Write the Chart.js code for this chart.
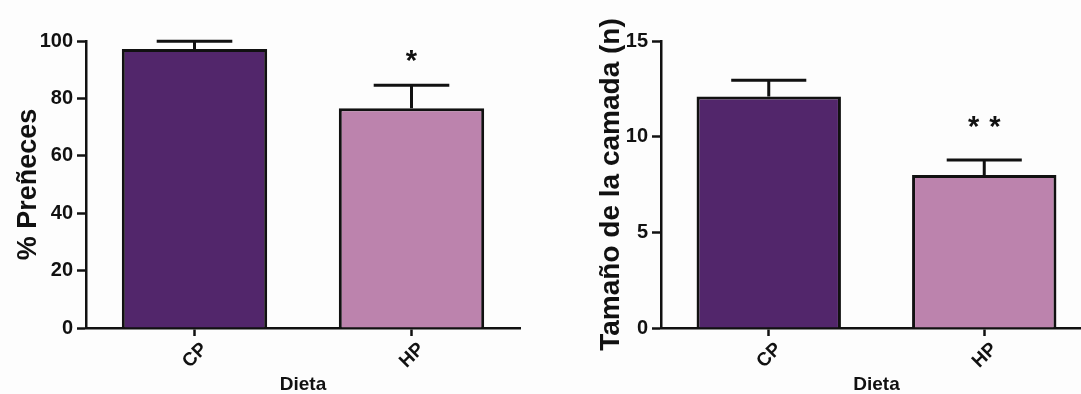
<!DOCTYPE html>
<html>
<head>
<meta charset="utf-8">
<script src="https://cdn.jsdelivr.net/npm/chart.js@4.4.1/dist/chart.umd.min.js"></script>
<style>
  html, body { margin: 0; padding: 0; background: #fdfdfd; overflow: hidden; }
  body { width: 1081px; height: 394px; position: relative; }
  .panel { position: absolute; top: 0; height: 394px; }
  #leftBox { left: 0; width: 540px; }
  #rightBox { left: 580px; width: 520px; }
</style>
</head>
<body>
<div class="panel" id="leftBox"><canvas id="pregChart"></canvas></div>
<div class="panel" id="rightBox"><canvas id="litterChart"></canvas></div>
<script>
// datos
const dietas = ["CP", "HP"];
const preneces = [97.2, 76.6];
const prenecesErr = [2.7, 8.0];
const prenecesSig = ["", "*"];
const prenecesSigY = [null, 96];
const camada = [12.1, 8.0];
const camadaErr = [0.85, 0.78];
const camadaSig = ["", "* *"];
const camadaSigY = [null, 11.0];
const prenecesTicks = [0, 20, 40, 60, 80, 100];
const camadaTicks = [0, 5, 10, 15];

const barColors = ["#52266b", "#bc83ad"];
const FONT = "'Liberation Sans', Arial, sans-serif";

// barras de error + asteriscos
const errorBars = {
    id: "errorBars",
    afterDatasetsDraw(chart, args, opts) {
        const c = chart.ctx;
        const meta = chart.getDatasetMeta(0);
        const y = chart.scales.y;
        c.save();
        c.strokeStyle = "#111";
        c.lineWidth = 3;
        meta.data.forEach((bar, i) => {
            const top = y.getPixelForValue(opts.values[i] + opts.errors[i]);
            const half = bar.width * 0.26;
            c.beginPath();
            c.moveTo(bar.x, bar.y);
            c.lineTo(bar.x, top);
            c.moveTo(bar.x - half, top);
            c.lineTo(bar.x + half, top);
            c.stroke();
            if (opts.sig[i]) {
                c.fillStyle = "#111";
                c.font = "bold 29px " + FONT;
                c.letterSpacing = "1px";
                c.textAlign = "center";
                c.textBaseline = "middle";
                c.fillText(opts.sig[i], bar.x + 0.5, y.getPixelForValue(opts.sigY[i]) + 10);
            }
        });
        c.restore();
    },
};

function makeChart(id, values, errors, sig, sigY, ticks, yMax, yTitle, titleSize, titlePad, yWidth, padRight) {
    const ctx = document.getElementById(id).getContext("2d");
    return new Chart(ctx, {
        type: "bar",
        data: {
            labels: dietas,
            datasets: [{
                data: values,
                backgroundColor: barColors,
                borderColor: "#111",
                borderWidth: 3,
                borderSkipped: "bottom",
                barPercentage: 0.67,
                categoryPercentage: 1,
            }],
        },
        options: {
            responsive: false,
            animation: false,
            layout: { padding: { top: 41, right: padRight, left: 0, bottom: 0 } },
            scales: {
                y: {
                    min: 0,
                    max: yMax,
                    afterBuildTicks: (s) => { s.ticks = ticks.map((v) => ({ value: v })); },
                    afterFit: (s) => { s.width = yWidth; },
                    ticks: { color: "#111", font: { family: FONT, size: 20, weight: "bold" }, padding: 4 },
                    grid: { drawOnChartArea: false, drawTicks: true, tickLength: 9, tickWidth: 2.5, color: "#111" },
                    border: { display: true, color: "#111", width: 2.5 },
                    title: { display: true, text: yTitle, color: "#111", font: { family: FONT, size: titleSize, weight: "bold" }, padding: { top: titlePad, bottom: 0 } },
                },
                x: {
                    afterFit: (s) => { s.height = 66; },
                    ticks: { color: "#111", minRotation: 45, maxRotation: 45, labelOffset: 10, padding: 2, font: { family: FONT, size: 19, weight: "bold" } },
                    grid: { offset: false, drawOnChartArea: false, drawTicks: true, tickLength: 8, tickWidth: 2.5, color: "#111" },
                    border: { display: true, color: "#111", width: 2.5 },
                    title: { display: true, text: "Dieta", color: "#111", font: { family: FONT, size: 19, weight: "bold", lineHeight: 1 }, padding: { top: 0, bottom: 0 } },
                },
            },
            plugins: {
                legend: { display: false },
                tooltip: { enabled: false },
                errorBars: { values, errors, sig, sigY },
            },
        },
        plugins: [errorBars],
    });
}

const c1 = document.getElementById("pregChart");
c1.width = 540; c1.height = 394;
const c2 = document.getElementById("litterChart");
c2.width = 520; c2.height = 394;

makeChart("pregChart", preneces, prenecesErr, prenecesSig, prenecesSigY, prenecesTicks, 100, "% Preñeces", 27, 12, 86, 20);
makeChart("litterChart", camada, camadaErr, camadaSig, camadaSigY, camadaTicks, 15, "Tamaño de la camada (n)", 28, 14, 81, 8);
</script>
</body>
</html>
